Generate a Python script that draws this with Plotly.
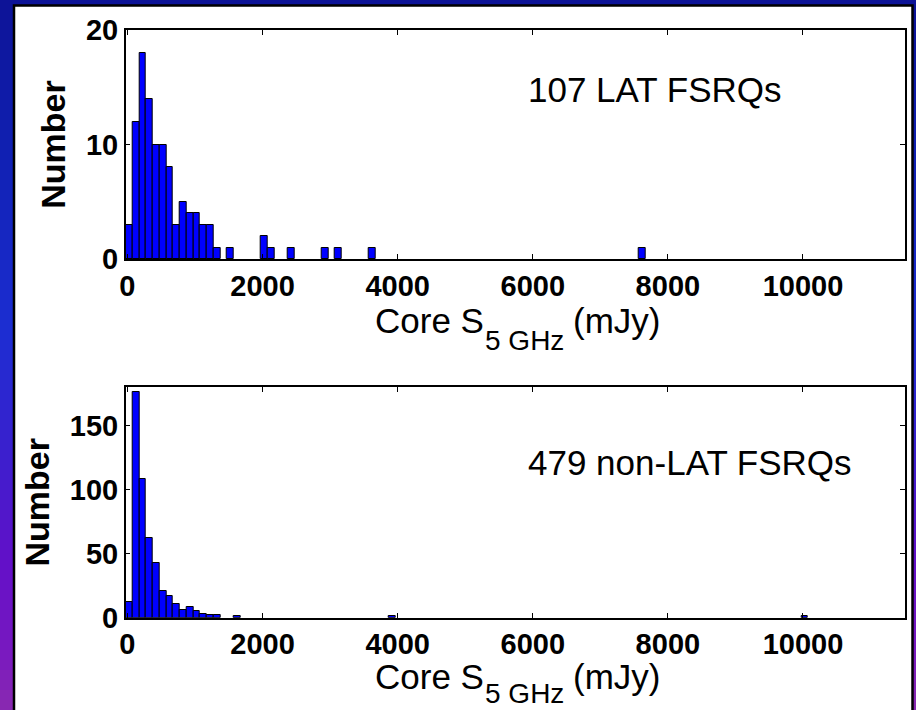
import plotly.graph_objects as go

# Histogram bins: 100 mJy wide, first bin starting at -25 mJy
bin_width = 100
bin_start = -25

# Top panel: LAT-detected FSRQs (bin index -> count)
lat_bins = [0, 1, 2, 3, 4, 5, 6, 7, 8, 9, 10, 11, 12, 13, 15, 20, 21, 24, 29, 31, 36, 76]
lat_counts = [3, 12, 18, 14, 10, 10, 8, 3, 5, 4, 4, 3, 3, 1, 1, 2, 1, 1, 1, 1, 1, 1]

# Bottom panel: FSRQs without LAT detection
nonlat_bins = [0, 1, 2, 3, 4, 5, 6, 7, 8, 9, 10, 11, 12, 13, 16, 39, 100]
nonlat_counts = [12, 176, 108, 62, 43, 21, 17, 11, 6, 8, 5, 3, 2, 2, 1, 1, 1]

x_ticks = [0, 2000, 4000, 6000, 8000, 10000]
x_ticktext = ["0", "2000", "4000", "6000", "8000", "10000"]
lat_yticks = [0, 10, 20]
nonlat_yticks = [0, 50, 100, 150]

lat_label = "107 LAT FSRQs"
nonlat_label = "479 non-LAT FSRQs"
x_title_main = "Core S"
x_title_sub = "5 GHz"
x_title_unit = "(mJy)"
y_title = "<b>Number</b>"

W, H = 916, 710
FONT = "Liberation Sans, Arial, Helvetica, sans-serif"


def centers(bins):
    return [bin_start + bin_width * (b + 0.5) for b in bins]


fig = go.Figure()
fig.add_trace(go.Bar(x=centers(lat_bins), y=lat_counts, width=bin_width,
                     marker=dict(color="#0000ff", line=dict(color="#000000", width=1)),
                     xaxis="x", yaxis="y", showlegend=False))
fig.add_trace(go.Bar(x=centers(nonlat_bins), y=nonlat_counts, width=bin_width,
                     marker=dict(color="#0000ff", line=dict(color="#000000", width=1)),
                     xaxis="x2", yaxis="y2", showlegend=False))

# slide background: vertical blue -> violet gradient
stops = [(0, (13, 19, 150)), (150, (16, 32, 178)), (330, (28, 46, 210)),
         (450, (58, 32, 206)), (560, (98, 16, 200)), (650, (120, 24, 192)),
         (710, (138, 42, 176))]


def grad(y):
    for (y0, c0), (y1, c1) in zip(stops[:-1], stops[1:]):
        if y0 <= y <= y1:
            t = (y - y0) / (y1 - y0)
            return "rgb(%d,%d,%d)" % tuple(round(a + (b - a) * t) for a, b in zip(c0, c1))
    return "rgb(%d,%d,%d)" % stops[-1][1]


shapes = []
step = 10
for y in range(0, H, step):
    shapes.append(dict(type="rect", xref="paper", yref="paper",
                       x0=0, x1=1, y0=1 - (y + step) / H, y1=1 - y / H,
                       fillcolor=grad(y + step / 2), line=dict(width=0), layer="below"))
# white slide panel with black frame
shapes.append(dict(type="rect", xref="paper", yref="paper",
                   x0=14 / W, x1=912.5 / W, y0=-0.02, y1=1 - 5.5 / H,
                   fillcolor="white", line=dict(color="black", width=2.5), layer="below"))

x_dom = [125.7 / W, 905 / W]
top_dom = [1 - 259 / H, 1 - 30 / H]
bot_dom = [1 - 617.7 / H, 1 - 387 / H]

tick_font = dict(family=FONT, size=29, color="black", weight="bold")
title_font = dict(family=FONT, size=34, color="black")

xaxis_common = dict(range=[bin_start, 11510], tickvals=x_ticks, ticktext=x_ticktext,
                    ticks="inside", ticklen=5,
                    tickcolor="black", tickwidth=1, showline=True, linecolor="black",
                    linewidth=1.5, mirror="ticks", showgrid=False, zeroline=False,
                    tickfont=tick_font, domain=x_dom, automargin=False)
yaxis_common = dict(ticks="inside", ticklen=5, tickcolor="black", tickwidth=1,
                    showline=True, linecolor="black", linewidth=1.5, mirror="ticks",
                    showgrid=False, zeroline=False, tickfont=tick_font,
                    title=dict(text=y_title, font=title_font, standoff=10), automargin=False)

annotations = [
    dict(text=lat_label, xref="x", yref="y", x=5900, y=14.8, xanchor="left", yanchor="middle",
         showarrow=False, font=dict(family=FONT, size=35, color="black")),
    dict(text=nonlat_label, xref="x2", yref="y2", x=5900, y=121, xanchor="left", yanchor="middle",
         showarrow=False, font=dict(family=FONT, size=35, color="black")),
]

# x-axis titles: main text, lowered subscript and unit, placed in pixels
x_center = (125.7 + 905) / 2
main_w = 3.112 * 35
sub_w = 2.834 * 28
unit_w = 2.5 * 35
start = x_center - (main_w + sub_w + 0.278 * 35 + unit_w) / 2
for baseline, sub_drop in ((333, 17), (689, 14)):
    annotations += [
        dict(text=x_title_main, xref="paper", yref="paper", x=start / W,
             y=1 - (baseline - 0.35 * 35) / H, xanchor="left", yanchor="middle",
             showarrow=False, font=dict(family=FONT, size=35, color="black")),
        dict(text=x_title_sub, xref="paper", yref="paper", x=(start + main_w + 1) / W,
             y=1 - (baseline + sub_drop - 0.35 * 28) / H, xanchor="left", yanchor="middle",
             showarrow=False, font=dict(family=FONT, size=28, color="black")),
        dict(text=x_title_unit, xref="paper", yref="paper",
             x=(start + main_w + sub_w + 0.278 * 35) / W,
             y=1 - (baseline - 0.35 * 35) / H, xanchor="left", yanchor="middle",
             showarrow=False, font=dict(family=FONT, size=35, color="black")),
    ]

fig.update_layout(
    width=W, height=H, margin=dict(l=0, r=0, t=0, b=0),
    paper_bgcolor="rgb(13,19,150)", plot_bgcolor="white",
    bargap=0, shapes=shapes,
    xaxis=dict(xaxis_common, anchor="y"),
    yaxis=dict(yaxis_common, range=[0, 20], tickvals=lat_yticks, domain=top_dom, anchor="x"),
    xaxis2=dict(xaxis_common, anchor="y2"),
    yaxis2=dict(yaxis_common, range=[0, 180], tickvals=nonlat_yticks, domain=bot_dom, anchor="x2"),
    annotations=annotations,
)

fig.write_html("out.html")
